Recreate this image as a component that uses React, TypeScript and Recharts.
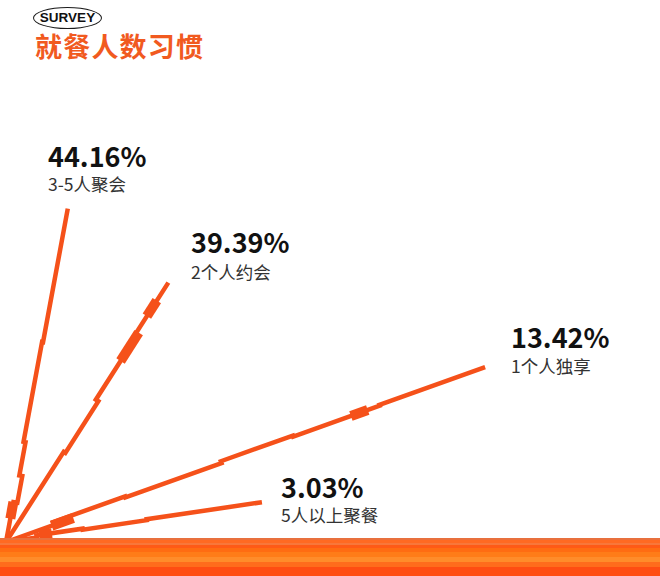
import { LineChart, Line, XAxis, YAxis } from 'recharts';

// survey answers
const categories = ['3-5人聚会', '2个人约会', '1个人独享', '5人以上聚餐'];
const percentLabels = ['44.16%', '39.39%', '13.42%', '3.03%'];
// each answer drawn as a ray from the bottom-left corner
const angles = [79.5, 57.4, 19.6, 8.4];
const lengths = [339, 306, 510, 259];
// little sideways jogs along each ray: [fraction, shift]
const jogs: [number, number][][] = [
  [[0.12, -4], [0.2, -1], [0.3, 1], [0.6, 0]],
  [[0.35, -2], [0.55, 1], [0.75, 3]],
  [[0.1, 3], [0.25, 2], [0.45, 4], [0.6, 3], [0.78, 4]],
  [[0.12, 2], [0.3, 1], [0.55, 2]],
];
// thicker chunks on each ray: [from, to]
const chunks: [number, number][][] = [
  [[0.07, 0.12]],
  [[0.7, 0.81], [0.87, 0.93]],
  [[0.095, 0.14], [0.72, 0.755]],
  [[0.13, 0.18]],
];

const W = 660;
const H = 576;
const ORIGIN = { x: 6, y: 34 };
const ORANGE = '#f5511a';

const pointAt = (i: number, f: number, s: number) => {
  const a = (angles[i] * Math.PI) / 180;
  const dx = Math.cos(a);
  const dy = Math.sin(a);
  return {
    x: ORIGIN.x + dx * lengths[i] * f - dy * s,
    y: ORIGIN.y + dy * lengths[i] * f + dx * s,
  };
};

const rayData = (i: number) => {
  const pts = [pointAt(i, 0, 0)];
  let shift = 0;
  jogs[i].forEach(([f, s]) => {
    pts.push(pointAt(i, f, shift));
    pts.push(pointAt(i, f, s));
    shift = s;
  });
  pts.push(pointAt(i, 1, shift));
  return pts;
};

const chunkShift = (i: number, f: number) => {
  let shift = 0;
  jogs[i].forEach(([jf, s]) => {
    if (f >= jf) shift = s;
  });
  return shift;
};

const labelPos = [
  { left: 48, top: 144, sub: 175 },
  { left: 191, top: 230, sub: 263 },
  { left: 511, top: 325, sub: 357 },
  { left: 281, top: 475, sub: 506 },
];

const font = '"Noto Sans CJK SC", "Noto Sans", sans-serif';

export default function App() {
  return (
    <div style={{ position: 'absolute', left: 0, top: 0, width: W, height: H, background: '#fff', overflow: 'hidden', fontFamily: font }}>
      <div
        style={{
          position: 'absolute', left: 33, top: 7, width: 67, height: 20,
          border: '1.5px solid #1a1a1a', borderRadius: '50%',
          fontFamily: '"Liberation Sans", Arial, sans-serif', fontWeight: 700, fontSize: 13.5,
          lineHeight: '20px', textAlign: 'center', color: '#111',
        }}
      >
        SURVEY
      </div>
      <div style={{ position: 'absolute', left: 35, top: 31, fontSize: 27, fontWeight: 700, color: '#f15a1f', lineHeight: 1.1, letterSpacing: 1.2 }}>
        就餐人数习惯
      </div>

      <div style={{ position: 'absolute', left: 0, top: 0 }}>
        <LineChart width={W} height={H} margin={{ top: 0, right: 0, bottom: 0, left: 0 }}>
          <XAxis type="number" dataKey="x" domain={[0, W]} hide allowDataOverflow />
          <YAxis type="number" dataKey="y" domain={[0, H]} hide allowDataOverflow />
          {categories.map((c, i) => (
            <Line
              key={c}
              data={rayData(i)}
              dataKey="y"
              stroke={ORANGE}
              strokeWidth={4.5}
              dot={false}
              activeDot={false}
              isAnimationActive={false}
              strokeLinejoin="miter"
            />
          ))}
          {categories.map((c, i) =>
            chunks[i].map(([a, b], k) => (
              <Line
                key={c + k}
                data={[pointAt(i, a, chunkShift(i, a)), pointAt(i, b, chunkShift(i, a))]}
                dataKey="y"
                stroke={ORANGE}
                strokeWidth={10}
                strokeLinecap="butt"
                dot={false}
                activeDot={false}
                isAnimationActive={false}
              />
            ))
          )}
        </LineChart>
      </div>

      {categories.map((c, i) => (
        <div key={c}>
          <div style={{ position: 'absolute', left: labelPos[i].left, top: labelPos[i].top, fontSize: 27, fontWeight: 700, color: '#111', lineHeight: '24px' }}>
            {percentLabels[i]}
          </div>
          <div style={{ position: 'absolute', left: labelPos[i].left, top: labelPos[i].sub, fontSize: 17.5, color: '#333', lineHeight: '17px' }}>
            {c}
          </div>
        </div>
      ))}

      <div
        style={{
          position: 'absolute', left: 0, top: 538, width: W, height: H - 538,
          background:
            'linear-gradient(to bottom, #e8703e 0px, #e8703e 2px, #ff6a22 2px, #ff6a22 5px, #f8773a 5px, #f8773a 7px, #ff5a16 7px, #ff5a16 10px, #ff6c12 10px, #ff6c12 14px, #ff7c18 14px, #ff7c18 19px, #ff8c2a 19px, #ff8c2a 24px, #ff6c1c 24px, #ff6c1c 29px, #ff4d12 29px, #ff4d12 38px)',
        }}
      />
    </div>
  );
}
